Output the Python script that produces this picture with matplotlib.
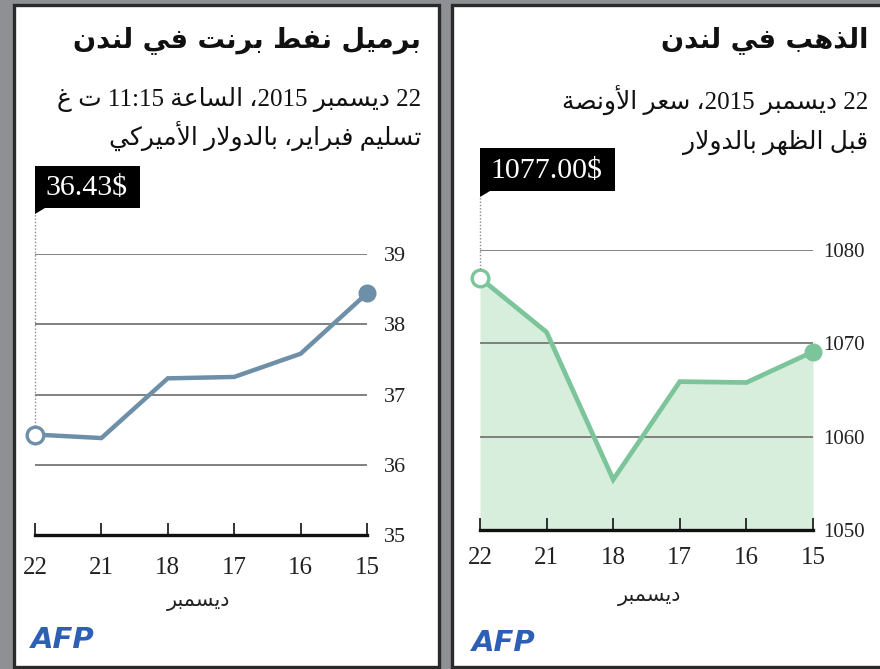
import re
import matplotlib
matplotlib.use("Agg")
import matplotlib.pyplot as plt
from matplotlib.patches import Rectangle, Polygon
from matplotlib.transforms import IdentityTransform

# ---- data -------------------------------------------------------------
days = ["22", "21", "18", "17", "16", "15"]

brent_values = [36.43, 36.38, 37.23, 37.25, 37.58, 38.44]
brent_ticks = [35, 36, 37, 38, 39]
brent_title = "برميل نفط برنت في لندن"
brent_sub = ["22 ديسمبر 2015، الساعة 11:15 ت غ", "تسليم فبراير، بالدولار الأميركي"]
brent_label = "36.43$"

gold_values = [1077.0, 1071.2, 1055.4, 1065.9, 1065.8, 1069.1]
gold_ticks = [1050, 1060, 1070, 1080]
gold_title = "الذهب في لندن"
gold_sub = ["22 ديسمبر 2015، سعر الأونصة", "قبل الظهر بالدولار"]
gold_label = "1077.00$"

month = "ديسمبر"

# ---- minimal arabic shaping + rtl ordering (no bidi lib here) -----------
FORMS = {
    "\u0627": (0xFE8D, 0xFE8E), "\u0623": (0xFE83, 0xFE84),
    "\u0628": (0xFE8F, 0xFE90, 0xFE91, 0xFE92), "\u0629": (0xFE93, 0xFE94),
    "\u062A": (0xFE95, 0xFE96, 0xFE97, 0xFE98), "\u062F": (0xFEA9, 0xFEAA),
    "\u0630": (0xFEAB, 0xFEAC), "\u0631": (0xFEAD, 0xFEAE),
    "\u0633": (0xFEB1, 0xFEB2, 0xFEB3, 0xFEB4),
    "\u0635": (0xFEB9, 0xFEBA, 0xFEBB, 0xFEBC),
    "\u0637": (0xFEC1, 0xFEC2, 0xFEC3, 0xFEC4),
    "\u0638": (0xFEC5, 0xFEC6, 0xFEC7, 0xFEC8),
    "\u0639": (0xFEC9, 0xFECA, 0xFECB, 0xFECC),
    "\u063A": (0xFECD, 0xFECE, 0xFECF, 0xFED0),
    "\u0641": (0xFED1, 0xFED2, 0xFED3, 0xFED4),
    "\u0642": (0xFED5, 0xFED6, 0xFED7, 0xFED8),
    "\u0643": (0xFED9, 0xFEDA, 0xFEDB, 0xFEDC),
    "\u0644": (0xFEDD, 0xFEDE, 0xFEDF, 0xFEE0),
    "\u0645": (0xFEE1, 0xFEE2, 0xFEE3, 0xFEE4),
    "\u0646": (0xFEE5, 0xFEE6, 0xFEE7, 0xFEE8),
    "\u0647": (0xFEE9, 0xFEEA, 0xFEEB, 0xFEEC),
    "\u0648": (0xFEED, 0xFEEE),
    "\u064A": (0xFEF1, 0xFEF2, 0xFEF3, 0xFEF4),
}
LAM_ALEF = {"\u0627": (0xFEFB, 0xFEFC), "\u0623": (0xFEF7, 0xFEF8)}


def shape_word(w):
    units = []
    i = 0
    while i < len(w):
        if w[i] == "\u0644" and i + 1 < len(w) and w[i + 1] in LAM_ALEF:
            units.append(("LA", w[i + 1]))
            i += 2
        else:
            units.append(("C", w[i]))
            i += 1

    def dual(u):
        return u[0] == "C" and u[1] in FORMS and len(FORMS[u[1]]) == 4

    def arabic(u):
        return u[0] == "LA" or u[1] in FORMS

    out = []
    for k, u in enumerate(units):
        prev_j = k > 0 and dual(units[k - 1])
        if u[0] == "LA":
            out.append(chr(LAM_ALEF[u[1]][1 if prev_j else 0]))
            continue
        c = u[1]
        if c not in FORMS:
            out.append(c)
            continue
        f = FORMS[c]
        next_j = len(f) == 4 and k + 1 < len(units) and arabic(units[k + 1])
        if prev_j and next_j:
            out.append(chr(f[3]))
        elif prev_j:
            out.append(chr(f[1]))
        elif next_j:
            out.append(chr(f[2]))
        else:
            out.append(chr(f[0]))
    return "".join(out)


def visual(line):
    shaped = " ".join(shape_word(t) for t in line.split(" "))
    rev = shaped[::-1]
    # numbers keep their own left-to-right order
    return re.sub(r"[0-9A-Za-z:.$]+", lambda m: m.group(0)[::-1], rev)


# ---- figure -------------------------------------------------------------
W, H = 880, 669
fig = plt.figure(figsize=(W / 100, H / 100), dpi=100, facecolor="#8e9094")
SERIF = ["Liberation Serif", "DejaVu Sans"]
ARAB = ["DejaVu Sans"]


def fpx(x, y):
    # top-left pixel -> figure fraction
    return x / W, 1 - y / H


def panel(x0, y0, x1, y1):
    fx, fy = fpx(x0, y1)
    fig.add_artist(Rectangle((fx, fy), (x1 - x0) / W, (y1 - y0) / H,
                             transform=fig.transFigure, facecolor="white",
                             edgecolor="#2a2a2a", linewidth=2.4, zorder=0))


panel(14, 4.5, 439, 666.5)
panel(451.5, 4.5, 900, 666.5)

renderer = fig.canvas.get_renderer()


def text_width(s, size, family, weight="normal"):
    t = fig.text(0, 0, s, fontsize=size, family=family, fontweight=weight)
    w = t.get_window_extent(renderer).width
    t.remove()
    return w


def fit_size(s, width_px, family, weight="normal"):
    return 20 * width_px / text_width(s, 20, family, weight)


def rtext(x, y, s, size, family, weight="normal", ha="right", color="#111111"):
    fx, fy = fpx(x, y)
    fig.text(fx, fy, s, fontsize=size, family=family, fontweight=weight,
             ha=ha, va="center", color=color)


def make_axes(x0, x1, ybot, ytop):
    fx0, fyb = fpx(x0, ybot)
    return fig.add_axes([fx0, fyb, (x1 - x0) / W, (ybot - ytop) / H])


def style_axes(ax, ticks, lim, ypad, xpad, ysize):
    ax.set_facecolor("none")
    ax.set_xlim(0, len(days) - 1)
    ax.set_ylim(*lim)
    for sp in ["top", "left", "right"]:
        ax.spines[sp].set_visible(False)
    ax.spines["bottom"].set_linewidth(2.4)
    ax.spines["bottom"].set_color("#111111")
    ax.set_xticks(range(len(days)))
    ax.set_xticklabels(days, family=SERIF, fontsize=18, color="#222222")
    ax.tick_params(axis="x", direction="in", length=9, width=1.3,
                   color="#222222", pad=xpad)
    ax.yaxis.tick_right()
    ax.set_yticks(ticks)
    ax.set_yticklabels([str(t) for t in ticks], family=SERIF, fontsize=ysize,
                       color="#222222")
    ax.tick_params(axis="y", length=0, pad=ypad)
    ax.yaxis.grid(True, color="#777777", linewidth=1.3)
    ax.set_axisbelow("line")


def callout(ax, yval, label, box_top, box_bot):
    xd, yd = ax.transData.transform((0, yval))
    # dotted leader from the first point up to the tag
    fig.add_artist(plt.Line2D([xd, xd], [yd + 9, H - box_bot - 6],
                              transform=IdentityTransform(), color="#8a8a8a",
                              linewidth=1.0, linestyle=(0, (1, 1.4)), zorder=3))
    fs = 21.5
    tw = text_width(label, fs, SERIF)
    yb, yt = H - box_bot, H - box_top
    fig.add_artist(Rectangle((xd, yb), tw + 23, yt - yb, transform=IdentityTransform(),
                             facecolor="black", edgecolor="none", zorder=4))
    fig.add_artist(Polygon([[xd, yb + 2], [xd, yb - 6], [xd + 10, yb]], closed=True,
                           transform=IdentityTransform(), facecolor="black",
                           edgecolor="none", zorder=4))
    fig.text(xd + 10, (yb + yt) / 2 - 1, label, fontsize=fs, family=SERIF,
             color="white", va="center", ha="left", transform=IdentityTransform(),
             zorder=5)


def afp(x, y):
    fx, fy = fpx(x, y)
    fig.text(fx, fy, "AFP", fontsize=21, family=["DejaVu Sans"], fontweight="heavy",
             style="italic", color="#2d5fb4", ha="left", va="center")


# ---- titles -------------------------------------------------------------
title_fs = fit_size(visual(brent_title), 348, ARAB, "bold")
sub_fs = fit_size(visual(brent_sub[0]), 365, SERIF)

rtext(421, 40, visual(brent_title), title_fs, ARAB, "bold")
rtext(421, 100, visual(brent_sub[0]), sub_fs, SERIF)
rtext(421, 136, visual(brent_sub[1]), sub_fs, SERIF)

rtext(868, 40, visual(gold_title), title_fs, ARAB, "bold")
rtext(868, 100, visual(gold_sub[0]), sub_fs, SERIF)
rtext(868, 142, visual(gold_sub[1]), sub_fs, SERIF)

# ---- brent chart ----------------------------------------------------------
x = list(range(len(days)))
ax1 = make_axes(35, 367, 535, 254)
style_axes(ax1, brent_ticks, (brent_ticks[0], brent_ticks[-1]), 12, 16, 16)
blue = "#6e8fa8"
ax1.plot(x, brent_values, color=blue, linewidth=3.2, zorder=4, clip_on=False,
         solid_joinstyle="miter")
ax1.plot(x[0], brent_values[0], "o", ms=12, mfc="white", mec=blue, mew=2.4,
         zorder=5, clip_on=False)
ax1.plot(x[-1], brent_values[-1], "o", ms=12, color=blue, zorder=5, clip_on=False)
callout(ax1, brent_values[0], brent_label, 166, 208)
rtext(199, 601, visual(month), 15, ARAB, ha="center", color="#222222")
afp(31, 640)

# ---- gold chart -----------------------------------------------------------
ax2 = make_axes(480, 813, 530, 250)
style_axes(ax2, gold_ticks, (gold_ticks[0], gold_ticks[-1]), 7, 12, 15)
green = "#7cc59b"
ax2.fill_between(x, gold_values, gold_ticks[0], color="#d8eedd", linewidth=0, zorder=1)
ax2.plot(x, gold_values, color=green, linewidth=3.4, zorder=4, clip_on=False,
         solid_joinstyle="miter")
ax2.plot(x[0], gold_values[0], "o", ms=12, mfc="white", mec=green, mew=2.4,
         zorder=5, clip_on=False)
ax2.plot(x[-1], gold_values[-1], "o", ms=12, color=green, zorder=5, clip_on=False)
callout(ax2, gold_values[0], gold_label, 148, 191)
rtext(650, 596, visual(month), 15, ARAB, ha="center", color="#222222")
afp(472, 643)

fig.savefig("out.png", dpi=100, facecolor=fig.get_facecolor())
